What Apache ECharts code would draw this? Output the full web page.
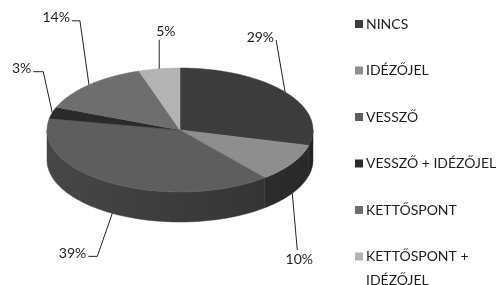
<!DOCTYPE html>
<html lang="hu">
<head>
    <meta charset="UTF-8">
    <title>Írásjelek megoszlása</title>
    <style>html, body { margin: 0; background: #fff; }</style>
</head>
<body>
<div id="main" style="width: 503px;height:285px;"></div>

<script src="https://cdn.jsdelivr.net/npm/echarts@6.0.0/dist/echarts.min.js"></script>

<script type="text/javascript">
    // adatok
    var categories = ['NINCS', 'IDÉZŐJEL', 'VESSZŐ', 'VESSZŐ + IDÉZŐJEL', 'KETTŐSPONT', 'KETTŐSPONT +\nIDÉZŐJEL'];
    var shares = [29, 10, 39, 3, 14, 5];

    // színek: a szelet teteje és oldala
    var topColors = ['#3c3c3c', '#8e8e8e', '#5e5e5e', '#2a2a2a', '#6e6e6e', '#b3b3b3'];
    var sideColors = ['#333333', '#3c3c3c', '#474747', '#222222', '#505050', '#7a7a7a'];

    // címkék vezetővonala: töréspont eltolása a horgonytól, majd vízszintes szakasz
    var labelKnee = [[-9, -52], [5, 57], [-15, 43], [-9, -41], [-9, -64], [0, -29]];
    var labelTail = [0, 0, -9, -10, -8, 0];
    var labelAlign = ['right', 'center', 'right', 'right', 'right', 'left'];

    // a "3D" torta geometriája
    var pie = {cx: 180, cy: 130, rx: 133, ry: 62, depth: 30};

    var total = shares.reduce(function (a, b) { return a + b; }, 0);
    var startFrac = [];
    var acc = 0;
    for (var k = 0; k < shares.length; k++) {
        startFrac.push(acc / total);
        acc += shares[k];
    }

    // szög: 12 órától az óramutató irányában
    function pt(a, d) {
        return [pie.cx + pie.rx * Math.sin(a), pie.cy - pie.ry * Math.cos(a) + d];
    }

    function arc(a0, a1, d) {
        var pts = [];
        var n = Math.max(4, Math.ceil((a1 - a0) / 0.02));
        for (var j = 0; j <= n; j++) {
            pts.push(pt(a0 + (a1 - a0) * j / n, d));
        }
        return pts;
    }

    // oldalfal árnyékolása balról jobbra sötétedik
    var sideShade = new echarts.graphic.LinearGradient(pie.cx - pie.rx, 0, pie.cx + pie.rx, 0, [
        {offset: 0, color: 'rgba(0,0,0,0)'},
        {offset: 1, color: 'rgba(0,0,0,0.32)'}
    ], true);

    function renderItem(params, api) {
        var i = params.dataIndex;
        var v = api.value(0);
        var a0 = startFrac[i] * Math.PI * 2;
        var a1 = a0 + v / total * Math.PI * 2;
        var children = [];

        // oldalfal (csak az elülső félkörön látszik)
        var s0 = Math.max(a0, Math.PI / 2);
        var s1 = Math.min(a1, Math.PI * 1.5);
        if (s1 > s0) {
            var side = arc(s0, s1, 0).concat(arc(s0, s1, pie.depth).reverse());
            children.push({
                type: 'polygon',
                shape: {points: side},
                style: {fill: sideColors[i], stroke: sideColors[i], lineWidth: 0.5}
            });
            children.push({
                type: 'polygon',
                shape: {points: side},
                style: {fill: sideShade}
            });
        }

        // tető
        var top = [[pie.cx, pie.cy]].concat(arc(a0, a1, 0));
        children.push({
            type: 'polygon',
            shape: {points: top},
            style: {fill: topColors[i], stroke: topColors[i], lineWidth: 0.5}
        });

        // címke
        var mid = (a0 + a1) / 2;
        var anchor = Math.cos(mid) < 0 ? pt(mid, pie.depth) : pt(mid, 0);
        var knee = [anchor[0] + labelKnee[i][0], anchor[1] + labelKnee[i][1]];
        var end = [knee[0] + labelTail[i], knee[1]];
        children.push({
            type: 'polyline',
            shape: {points: [anchor, knee, end]},
            style: {stroke: '#222', lineWidth: 1, fill: null}
        });

        var txt = Math.round(v / total * 100) + '%';
        var tx, ty, va;
        if (labelAlign[i] === 'center') {
            tx = end[0] + 2; ty = end[1] + 2; va = 'top';
        } else if (labelAlign[i] === 'left') {
            tx = end[0] - 3; ty = end[1] - 1; va = 'bottom';
        } else {
            tx = end[0] - 2; ty = end[1] + 4; va = 'bottom';
        }
        children.push({
            type: 'text',
            style: {
                text: txt, x: tx, y: ty,
                align: labelAlign[i], verticalAlign: va,
                fill: '#1e1e1e', font: '14px Lato'
            }
        });

        return {type: 'group', children: children};
    }

    // jelmagyarázat
    var legendItems = [];
    for (var m = 0; m < categories.length; m++) {
        var yc = 24 + m * 46.5;
        legendItems.push({
            type: 'rect',
            shape: {x: 355, y: yc - 4, width: 8, height: 8},
            style: {fill: topColors[m]}
        });
        legendItems.push({
            type: 'text',
            style: {
                text: categories[m], x: 366, y: yc - 12,
                verticalAlign: 'top', lineHeight: 24,
                fill: '#1e1e1e', font: '14px Lato'
            }
        });
    }

    var myChart = echarts.init(document.getElementById('main'));
    var option = {
        animation: false,
        backgroundColor: '#fff',
        series: [{
            type: 'custom',
            coordinateSystem: 'none',
            renderItem: renderItem,
            data: shares.map(function (v, i) { return {name: categories[i], value: [v]}; })
        }],
        graphic: legendItems
    };
    myChart.setOption(option);
</script>
</body>
</html>
